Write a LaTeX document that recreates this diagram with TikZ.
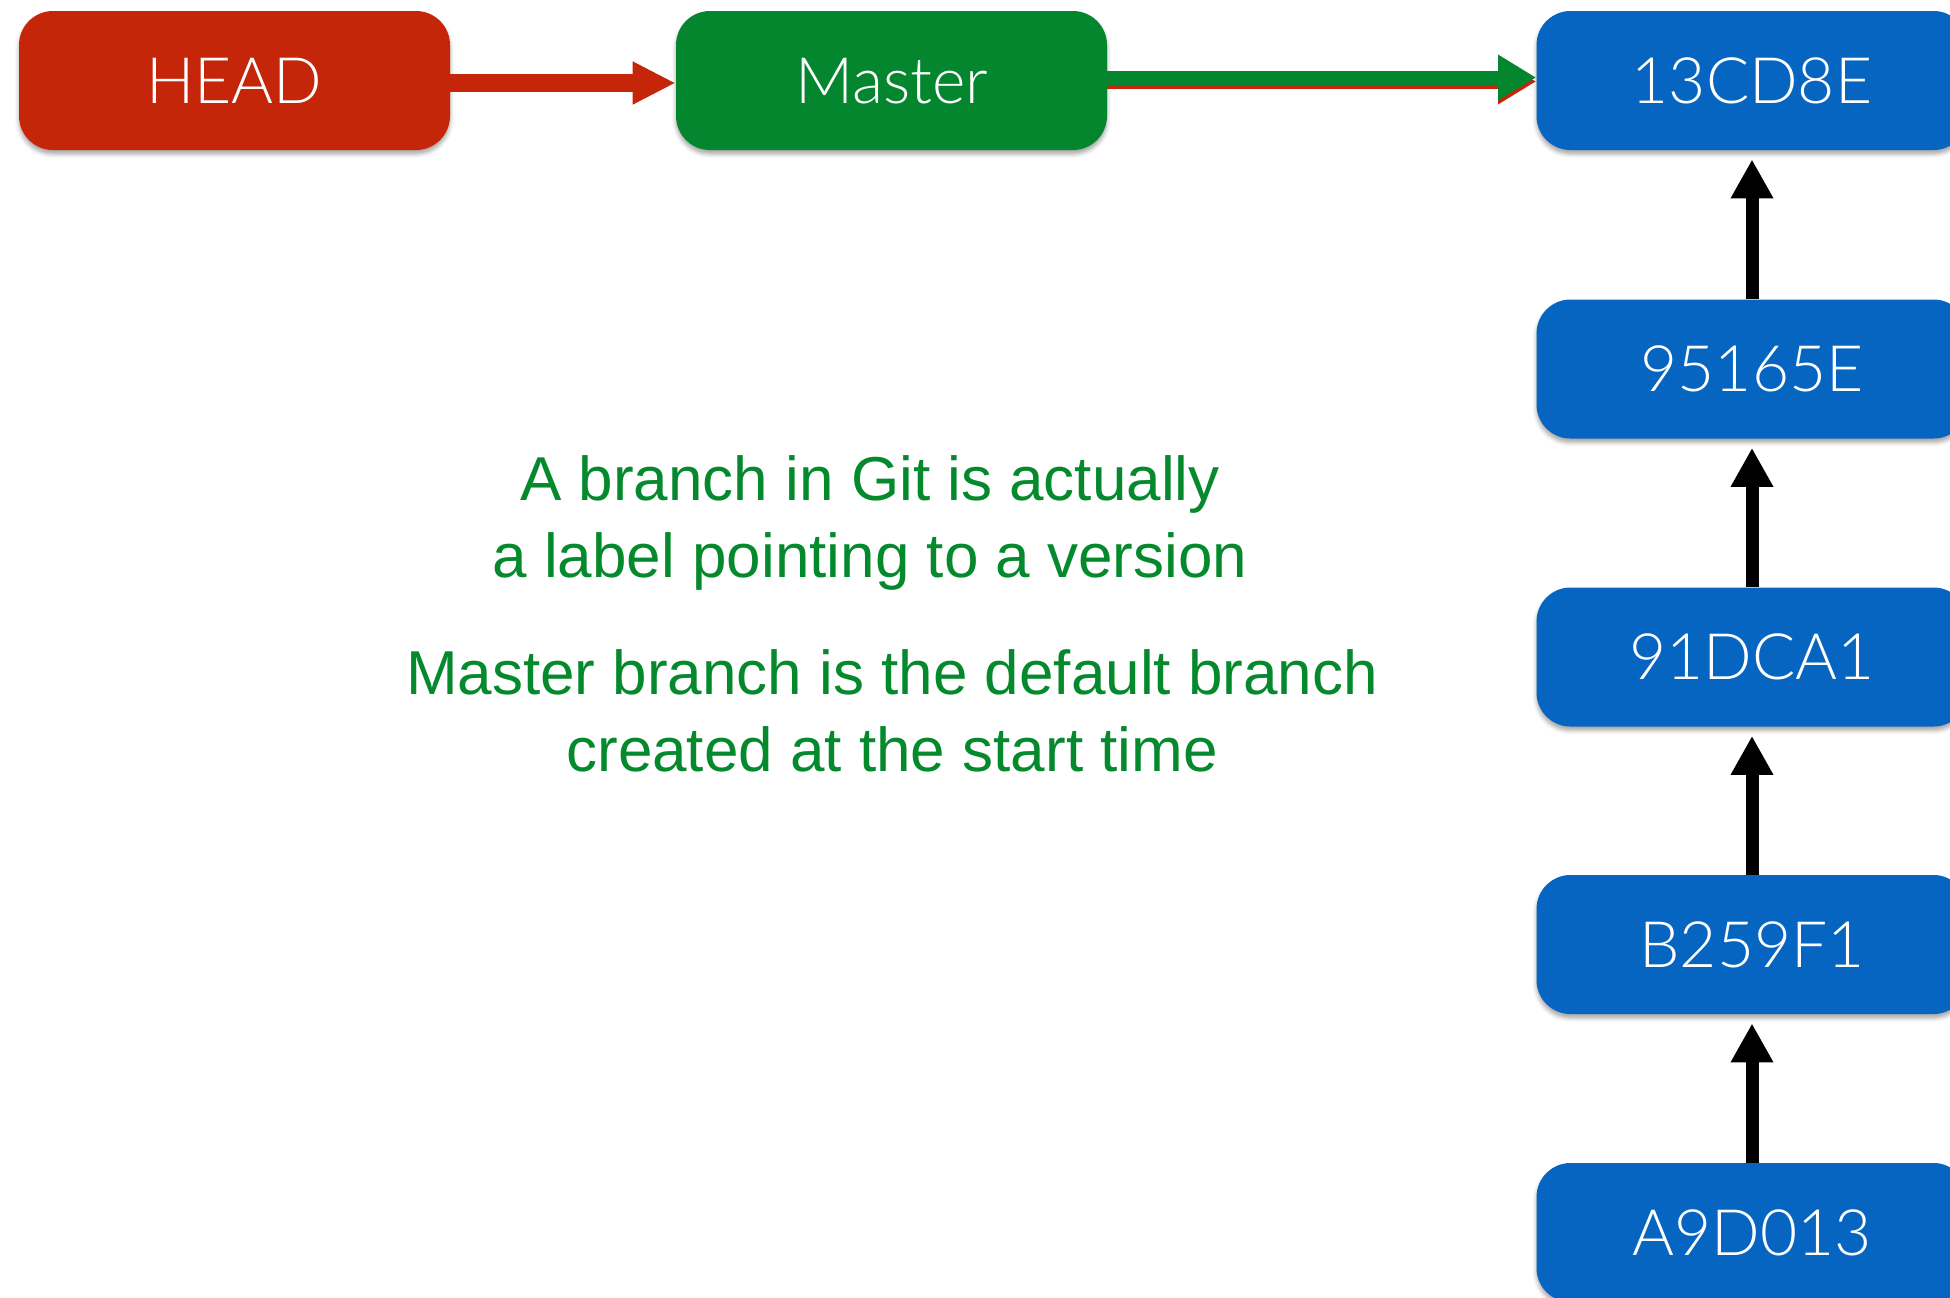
\documentclass[tikz,border=0pt]{standalone}
\usepackage{fontspec}
\setmainfont{Liberation Sans}
\IfFontExistsTF{Lato Light}{\newfontfamily\labelfont{Lato Light}}{\newfontfamily\labelfont{Liberation Sans}}
\usetikzlibrary{arrows.meta,shadows.blur}
\definecolor{headred}{HTML}{C52508}
\definecolor{mastergreen}{HTML}{04862E}
\definecolor{commitblue}{HTML}{0665C0}
\definecolor{textgreen}{HTML}{05892D}
\tikzset{
  box/.style={rectangle, rounded corners=17pt, minimum width=215.5pt, minimum height=69.5pt,
    inner sep=0pt, text=white, text depth=0pt, font=\labelfont\fontsize{32}{38}\selectfont,
    blur shadow={shadow xshift=0pt, shadow yshift=-2pt, shadow blur radius=2pt, shadow opacity=35}},
  headbox/.style={box, fill=headred},
  masterbox/.style={box, fill=mastergreen},
  commitbox/.style={box, fill=commitblue},
  note/.style={anchor=base, text=textgreen, inner sep=0pt, font=\fontsize{31}{38.5}\selectfont},
  parent/.style={line width=6.5pt, black, -{Triangle[length=19.5pt,width=20pt]}, shorten >=4.5pt},
}
\begin{document}
\begin{tikzpicture}[x=0.5pt,y=-0.5pt]
\useasboundingbox (0,0) rectangle (1950,1297);
\node[headbox] (head) at (234.5,80.5) {HEAD};
\node[masterbox] (master) at (891.5,80.5) {Master};
\node[commitbox] (c1) at (1752,80.5) {13CD8E};
\node[commitbox] (c2) at (1752,369) {95165E};
\node[commitbox] (c3) at (1752,657) {91DCA1};
\node[commitbox] (c4) at (1752,944.5) {B259F1};
\node[commitbox] (c5) at (1752,1232.5) {A9D013};

\draw[line width=9pt, headred, -{Triangle[length=21.5pt,width=20pt]}]
  ([yshift=-1.25pt]head.east) -- ([yshift=-1.25pt]master.west);
\draw[line width=7pt, headred, -{Triangle[length=19pt,width=21.5pt]}]
  ([yshift=-0.5pt]master.east) -- ([yshift=-0.5pt]c1.west);
\draw[line width=7pt, mastergreen, -{Triangle[length=19pt,width=21.5pt]}]
  ([yshift=1.5pt]master.east) -- ([yshift=1.5pt]c1.west);

\draw[parent] (c2.north) -- (c1.south);
\draw[parent] (c3.north) -- (c2.south);
\draw[parent] (c4.north) -- (c3.south);
\draw[parent] (c5.north) -- (c4.south);

\node[note] (n1a) at (870,500) {A branch in Git is actually};
\node[note] (n1b) at (870,577) {a label pointing to a version};
\node[note] (n2a) at (892,694) {Master branch is the default branch};
\node[note] (n2b) at (892,771) {created at the start time};
\end{tikzpicture}
\end{document}
